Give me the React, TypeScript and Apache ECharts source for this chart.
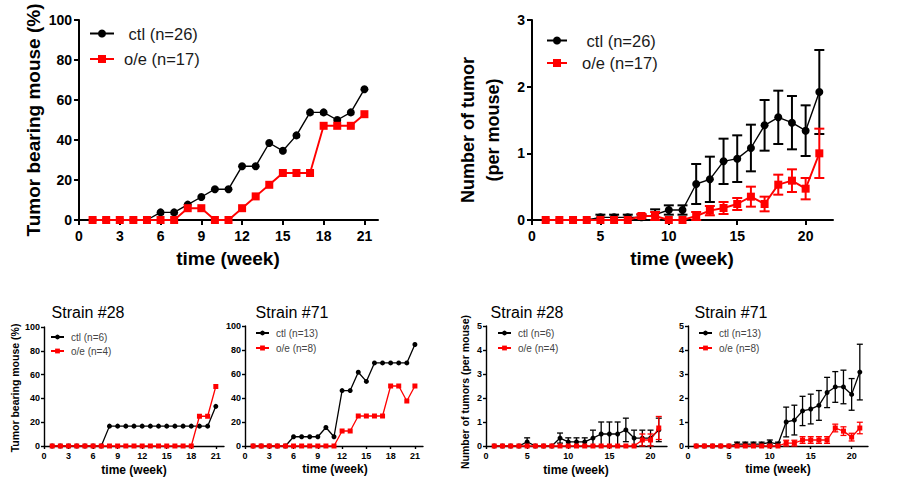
import React, { useEffect, useRef } from "react";
import * as echarts from "echarts";

// ---------- data ----------
const weeks = [1, 2, 3, 4, 5, 6, 7, 8, 9, 10, 11, 12, 13, 14, 15, 16, 17, 18, 19, 20, 21];
const xTicksBy3 = [0, 3, 6, 9, 12, 15, 18, 21];
const xTicksBy5 = [0, 5, 10, 15, 20];

// all strains, % tumor bearing mice
const allCtlPct = [0, 0, 0, 0, 0, 3.8, 3.8, 7.7, 11.5, 15.4, 15.4, 26.9, 26.9, 38.5, 34.6, 42.3, 53.8, 53.8, 50, 53.8, 65.4];
const allOePct = [0, 0, 0, 0, 0, 0, 0, 5.9, 5.9, 0, 0, 5.9, 11.8, 17.6, 23.5, 23.5, 23.5, 47.1, 47.1, 47.1, 52.9];
// all strains, tumors per mouse (mean, SEM)
const allCtlNum = [0, 0, 0, 0, 0.04, 0.04, 0.04, 0.04, 0.08, 0.15, 0.15, 0.54, 0.61, 0.88, 0.92, 1.08, 1.42, 1.54, 1.46, 1.34, 1.92];
const allCtlSem = [0, 0, 0, 0, 0.04, 0.04, 0.04, 0.04, 0.08, 0.07, 0.07, 0.3, 0.34, 0.34, 0.35, 0.35, 0.38, 0.4, 0.4, 0.38, 0.63];
const allOeNum = [0, 0, 0, 0, 0, 0, 0, 0.06, 0.06, 0, 0, 0.06, 0.14, 0.18, 0.24, 0.35, 0.24, 0.53, 0.59, 0.47, 1.0];
const allOeSem = [0, 0, 0, 0, 0, 0, 0, 0.03, 0.06, 0, 0, 0.06, 0.07, 0.09, 0.09, 0.15, 0.11, 0.15, 0.17, 0.16, 0.37];

// strain #28
const s28CtlPct = [0, 0, 0, 0, 0, 0, 0, 16.7, 16.7, 16.7, 16.7, 16.7, 16.7, 16.7, 16.7, 16.7, 16.7, 16.7, 16.7, 16.7, 33.3];
const s28OePct = [0, 0, 0, 0, 0, 0, 0, 0, 0, 0, 0, 0, 0, 0, 0, 0, 0, 0, 25, 25, 50];
const s28CtlNum = [0, 0, 0, 0, 0.17, 0, 0, 0, 0.33, 0.17, 0.17, 0.17, 0.33, 0.5, 0.5, 0.5, 0.67, 0.33, 0.33, 0.33, 0.67];
const s28CtlSem = [0, 0, 0, 0, 0.17, 0, 0, 0, 0.21, 0.17, 0.17, 0.17, 0.33, 0.5, 0.5, 0.5, 0.49, 0.33, 0.33, 0.33, 0.49];
const s28OeNum = [0, 0, 0, 0, 0, 0, 0, 0, 0, 0, 0, 0, 0, 0, 0, 0, 0, 0, 0.25, 0.25, 0.75];
const s28OeSem = [0, 0, 0, 0, 0, 0, 0, 0, 0, 0, 0, 0, 0, 0, 0, 0, 0, 0, 0.25, 0.25, 0.48];

// strain #71
const s71CtlPct = [0, 0, 0, 0, 0, 7.7, 7.7, 7.7, 7.7, 15.4, 7.7, 46.2, 46.2, 61.5, 53.8, 69.2, 69.2, 69.2, 69.2, 69.2, 84.6];
const s71OePct = [0, 0, 0, 0, 0, 0, 0, 0, 0, 0, 0, 12.5, 12.5, 25, 25, 25, 25, 50, 50, 37.5, 50];
const s71CtlNum = [0, 0, 0, 0, 0, 0.08, 0.08, 0.08, 0.08, 0.15, 0.08, 1.0, 1.08, 1.46, 1.54, 1.69, 2.23, 2.46, 2.46, 2.15, 3.08];
const s71CtlSem = [0, 0, 0, 0, 0, 0.08, 0.08, 0.08, 0.08, 0.1, 0.08, 0.62, 0.62, 0.61, 0.62, 0.62, 0.63, 0.64, 0.7, 0.66, 1.16];
const s71OeNum = [0, 0, 0, 0, 0, 0, 0, 0, 0, 0, 0, 0.12, 0.12, 0.25, 0.25, 0.25, 0.25, 0.75, 0.62, 0.37, 0.75];
const s71OeSem = [0, 0, 0, 0, 0, 0, 0, 0, 0, 0, 0, 0.12, 0.12, 0.14, 0.14, 0.14, 0.14, 0.16, 0.18, 0.16, 0.24];

const allCtlName = " ctl (n=26)";
const allOeName = "o/e (n=17)";
const s28CtlName = "ctl (n=6)";
const s28OeName = "o/e (n=4)";
const s71CtlName = "ctl (n=13)";
const s71OeName = "o/e (n=8)";

// ---------- styling ----------
const FONT = "'Liberation Sans', Arial, Helvetica, sans-serif";
const RED = "#ff0000";
const BLACK = "#000000";

type Panel = {
  grid: { left: number; top: number; width: number; height: number };
  yMax: number;
  yInterval: number;
  xTicks: number[];
  big: boolean;
};

const panels: Panel[] = [
  { grid: { left: 79, top: 20, width: 299, height: 200 }, yMax: 100, yInterval: 20, xTicks: xTicksBy3, big: true },
  { grid: { left: 532, top: 20, width: 301, height: 200 }, yMax: 3, yInterval: 1, xTicks: xTicksBy5, big: true },
  { grid: { left: 44, top: 327, width: 180, height: 119 }, yMax: 100, yInterval: 20, xTicks: xTicksBy3, big: false },
  { grid: { left: 245, top: 326, width: 178, height: 120 }, yMax: 100, yInterval: 20, xTicks: xTicksBy3, big: false },
  { grid: { left: 486, top: 326, width: 181, height: 120 }, yMax: 5, yInterval: 1, xTicks: xTicksBy5, big: false },
  { grid: { left: 688, top: 326, width: 180, height: 120 }, yMax: 5, yInterval: 1, xTicks: xTicksBy5, big: false },
];

function lineSeries(name: string, idx: number, values: number[], isCtl: boolean, big: boolean) {
  const color = isCtl ? BLACK : RED;
  return {
    type: "line",
    name,
    xAxisIndex: idx,
    yAxisIndex: idx,
    data: weeks.map((w, i) => [w, values[i]]),
    symbol: isCtl ? "circle" : "rect",
    symbolSize: big ? 8 : 5,
    showSymbol: true,
    lineStyle: { color, width: big ? (isCtl ? 1.4 : 1.9) : 1.3 },
    itemStyle: { color, borderWidth: 0 },
    clip: false,
    silent: true,
    z: isCtl ? 3 : 5,
  };
}

function errSeries(name: string, idx: number, means: number[], sems: number[], isCtl: boolean, big: boolean) {
  const color = isCtl ? BLACK : RED;
  const cap = big ? 5 : 3;
  const lw = big ? 2 : 1.3;
  const data = weeks
    .map((w, i) => [w, means[i] - sems[i], means[i] + sems[i]])
    .filter((_, i) => sems[i] > 0);
  return {
    type: "custom",
    name,
    xAxisIndex: idx,
    yAxisIndex: idx,
    data,
    silent: true,
    clip: false,
    z: isCtl ? 2 : 4,
    encode: { x: 0, y: [1, 2] },
    renderItem: (_params: any, api: any) => {
      const x = api.value(0);
      const top = api.coord([x, api.value(2)]);
      const bot = api.coord([x, api.value(1)]);
      const style = { stroke: color, lineWidth: lw };
      return {
        type: "group",
        children: [
          { type: "line", shape: { x1: top[0], y1: top[1], x2: bot[0], y2: bot[1] }, style },
          { type: "line", shape: { x1: top[0] - cap, y1: top[1], x2: top[0] + cap, y2: top[1] }, style },
          { type: "line", shape: { x1: bot[0] - cap, y1: bot[1], x2: bot[0] + cap, y2: bot[1] }, style },
        ],
      };
    },
  };
}

function legend(names: string[], left: number, top: number, big: boolean, gap: number, itemWidth: number, pad: number) {
  return {
    show: true,
    orient: "vertical",
    left,
    top,
    padding: 0,
    itemGap: gap,
    itemWidth,
    itemHeight: big ? 10 : 6,
    selectedMode: false,
    data: names,
    textStyle: {
      fontFamily: FONT,
      fontSize: big ? 16.5 : 10,
      color: big ? "#1a1a1a" : "#444444",
      padding: [0, 0, 0, pad],
    },
  };
}

function txt(text: string, x: number, y: number, size: number, bold: boolean, rotate = false) {
  return {
    type: "text",
    x,
    y,
    rotation: rotate ? Math.PI / 2 : 0,
    silent: true,
    style: {
      text,
      fill: "#000",
      font: `${bold ? "bold " : ""}${size}px ${FONT}`,
      fontSize: size,
      fontWeight: bold ? "bold" : "normal",
      fontFamily: FONT,
      align: "center",
      verticalAlign: "middle",
      textAlign: "center",
      textVerticalAlign: "middle",
    },
  };
}

function buildOption() {
  const grids = panels.map((p) => ({ ...p.grid, containLabel: false }));
  const xAxes = panels.map((p, i) => ({
    type: "value",
    gridIndex: i,
    min: 0,
    max: 22,
    splitLine: { show: false },
    axisLine: { show: true, onZero: false, lineStyle: { color: BLACK, width: p.big ? 2 : 1.4 } },
    axisTick: {
      show: true,
      inside: false,
      length: p.big ? 5 : 3,
      customValues: p.xTicks,
      lineStyle: { color: BLACK, width: p.big ? 2 : 1.4 },
    },
    axisLabel: {
      customValues: p.xTicks,
      margin: p.big ? 9 : 5,
      color: "#000",
      fontFamily: FONT,
      fontWeight: "bold",
      fontSize: p.big ? 14 : 9,
    },
  }));
  const yAxes = panels.map((p, i) => ({
    type: "value",
    gridIndex: i,
    min: 0,
    max: p.yMax,
    interval: p.yInterval,
    splitLine: { show: false },
    axisLine: { show: true, onZero: false, lineStyle: { color: BLACK, width: p.big ? 2 : 1.4 } },
    axisTick: { show: true, inside: false, length: p.big ? 5 : 3, lineStyle: { color: BLACK, width: p.big ? 2 : 1.4 } },
    axisLabel: {
      margin: p.big ? 7 : 4,
      color: "#000",
      fontFamily: FONT,
      fontWeight: "bold",
      fontSize: p.big ? 14 : 9,
    },
  }));

  const series = [
    // panel 0
    lineSeries(allCtlName, 0, allCtlPct, true, true),
    lineSeries(allOeName, 0, allOePct, false, true),
    // panel 1
    errSeries("ctl SEM all", 1, allCtlNum, allCtlSem, true, true),
    lineSeries(allCtlName, 1, allCtlNum, true, true),
    errSeries("o/e SEM all", 1, allOeNum, allOeSem, false, true),
    lineSeries(allOeName, 1, allOeNum, false, true),
    // panel 2
    lineSeries(s28CtlName, 2, s28CtlPct, true, false),
    lineSeries(s28OeName, 2, s28OePct, false, false),
    // panel 3
    lineSeries(s71CtlName, 3, s71CtlPct, true, false),
    lineSeries(s71OeName, 3, s71OePct, false, false),
    // panel 4
    errSeries("ctl SEM 28", 4, s28CtlNum, s28CtlSem, true, false),
    lineSeries(s28CtlName, 4, s28CtlNum, true, false),
    errSeries("o/e SEM 28", 4, s28OeNum, s28OeSem, false, false),
    lineSeries(s28OeName, 4, s28OeNum, false, false),
    // panel 5
    errSeries("ctl SEM 71", 5, s71CtlNum, s71CtlSem, true, false),
    lineSeries(s71CtlName, 5, s71CtlNum, true, false),
    errSeries("o/e SEM 71", 5, s71OeNum, s71OeSem, false, false),
    lineSeries(s71OeName, 5, s71OeNum, false, false),
  ];

  const legends = [
    legend([allCtlName, allOeName], 89, 25, true, 8.5, 24, 5),
    legend([allCtlName, allOeName], 546, 32, true, 5.5, 20, 10),
    legend([s28CtlName, s28OeName], 50, 332, false, 4, 13, 2),
    legend([s71CtlName, s71OeName], 255, 328, false, 5, 13, 2),
    legend([s28CtlName, s28OeName], 497, 328, false, 5, 13, 2),
    legend([s71CtlName, s71OeName], 698, 328, false, 5, 13, 2),
  ];

  const graphic = [
    txt("Tumor bearing mouse (%)", 33, 120, 19, true, true),
    txt("time (week)", 228, 258, 19, true),
    txt("Number of tumor", 468, 130, 18, true, true),
    txt("(per mouse)", 493, 130, 18, true, true),
    txt("time (week)", 682, 258, 19, true),
    txt("Strain #28", 88, 312, 16, false),
    txt("Strain #71", 292, 312, 16, false),
    txt("Strain #28", 527, 312, 16, false),
    txt("Strain #71", 731, 312, 16, false),
    txt("Tumor bearing mouse (%)", 15, 388, 10.5, true, true),
    txt("Number of tumors (per mouse)", 465, 392, 10.5, true, true),
    txt("time (week)", 134, 470, 12, true),
    txt("time (week)", 335, 469, 12, true),
    txt("time (week)", 576, 470, 12, true),
    txt("time (week)", 778, 469, 12, true),
  ];

  return {
    animation: false,
    backgroundColor: "#ffffff",
    textStyle: { fontFamily: FONT },
    grid: grids,
    xAxis: xAxes,
    yAxis: yAxes,
    legend: legends,
    series,
    graphic,
  };
}

export default function App() {
  const ref = useRef<HTMLDivElement>(null);
  useEffect(() => {
    if (!ref.current) return;
    const chart = echarts.init(ref.current, null, { renderer: "svg" });
    chart.setOption(buildOption() as any);
    return () => chart.dispose();
  }, []);
  return (
    <div
      ref={ref}
      style={{ position: "absolute", left: 0, top: 0, width: 897, height: 485, background: "#fff" }}
    />
  );
}
